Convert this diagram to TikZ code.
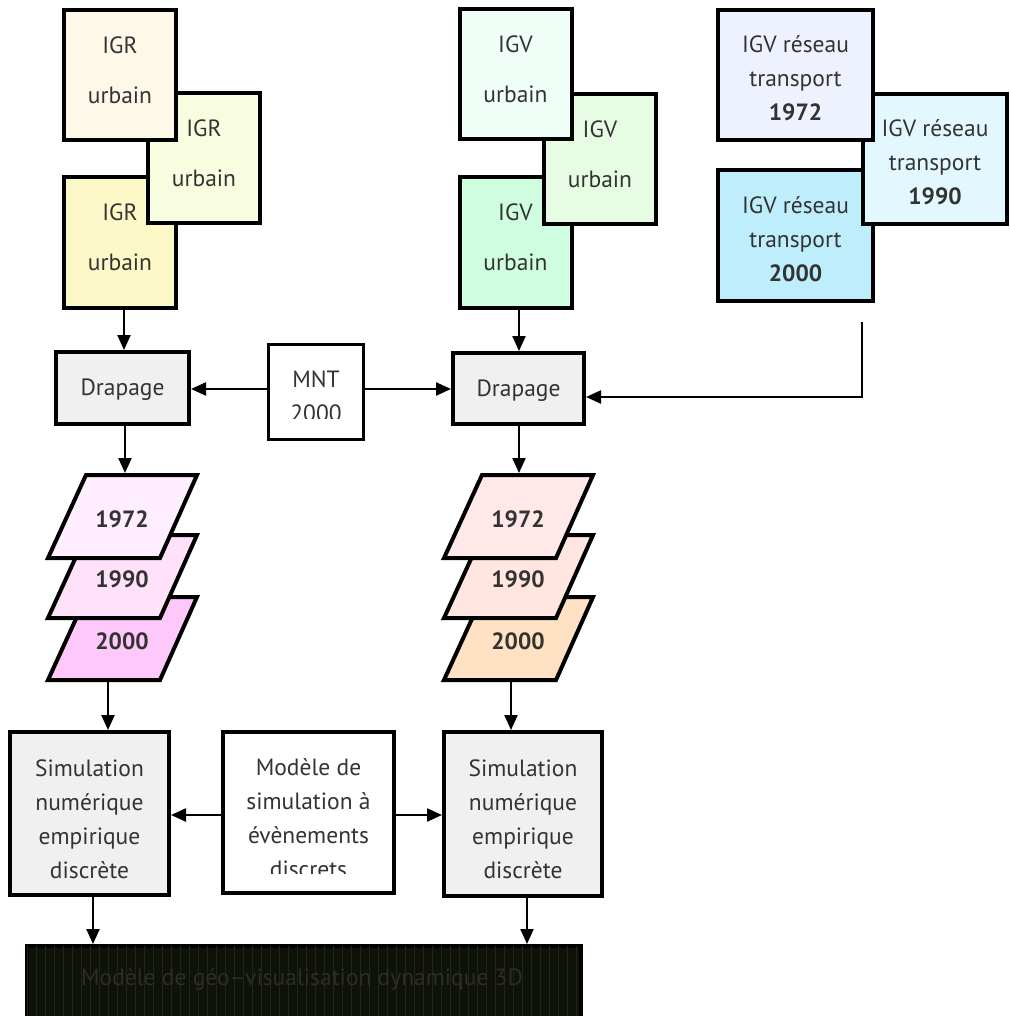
\documentclass[tikz,border=0pt]{standalone}
\usepackage{fontspec}
\setmainfont{PT Sans}
\usetikzlibrary{arrows.meta,calc}
\definecolor{txt}{HTML}{333333}
\definecolor{igrA}{HTML}{FEF8E8}
\definecolor{igrB}{HTML}{F9FDE0}
\definecolor{igrC}{HTML}{FDF8C8}
\definecolor{igvA}{HTML}{F0FEF8}
\definecolor{igvB}{HTML}{E6FDE4}
\definecolor{igvC}{HTML}{CEFDE0}
\definecolor{trA}{HTML}{EDF2FE}
\definecolor{trB}{HTML}{E2F8FE}
\definecolor{trC}{HTML}{BEEEFC}
\definecolor{grayf}{HTML}{F0F0F0}
\definecolor{plA}{HTML}{FFEEFF}
\definecolor{plB}{HTML}{FFE2FA}
\definecolor{plC}{HTML}{FFC8FA}
\definecolor{prA}{HTML}{FFE8E8}
\definecolor{prB}{HTML}{FFE6E0}
\definecolor{prC}{HTML}{FFE2C4}
\definecolor{darkf}{HTML}{0F1208}
\definecolor{gridc}{HTML}{1F2616}
\definecolor{vtext}{HTML}{2C2C2C}
\begin{document}
\begin{tikzpicture}[x=1pt,y=-1pt,
  box/.style={draw=black,line width=4pt,rectangle,inner sep=0pt,align=center,text=txt,
              font=\fontsize{23.5}{34}\selectfont},
  igbox/.style={box,font=\fontsize{23.5}{50}\selectfont,minimum width=112pt,minimum height=130pt},
  trbox/.style={box,minimum width=155pt,minimum height=130pt},
  simbox/.style={box,minimum height=163pt},
  arr/.style={line width=2.3pt,-{Triangle[length=15pt,width=13pt]}},
  para/.style={draw=black,line width=4pt,line join=miter},
  lbl/.style={text=txt,inner sep=0pt,align=center,font=\fontsize{23.5}{34}\selectfont},
  yr/.style={lbl,font=\fontsize{23.5}{34}\selectfont\bfseries},
]
\useasboundingbox (0,0) rectangle (1009,1016);

% IGR stack
\node[igbox,fill=igrC] (igr3) at (120,242.5) {IGR\\urbain\rule[-10pt]{0pt}{10pt}};
\node[igbox,fill=igrB] (igr2) at (204,158.5) {IGR\\urbain\rule[-10pt]{0pt}{10pt}};
\node[igbox,fill=igrA] (igr1) at (120,75) {IGR\\urbain\rule[-10pt]{0pt}{10pt}};

% IGV stack
\node[igbox,fill=igvC] (igv3) at (515.5,242.5) {IGV\\urbain\rule[-10pt]{0pt}{10pt}};
\node[igbox,fill=igvB] (igv2) at (600,159) {IGV\\urbain\rule[-10pt]{0pt}{10pt}};
\node[igbox,fill=igvA] (igv1) at (515.5,74.5) {IGV\\urbain\rule[-10pt]{0pt}{10pt}};

% transport stack
\node[trbox,fill=trC] (tr3) at (795.5,235.5) {\rule{0pt}{24pt}IGV réseau\\transport\\\textbf{2000}};
\node[trbox,fill=trB,minimum width=144pt] (tr2) at (935,159) {\rule{0pt}{24pt}IGV réseau\\transport\\\textbf{1990}};
\node[trbox,fill=trA] (tr1) at (795.5,75) {\rule{0pt}{24pt}IGV réseau\\transport\\\textbf{1972}};

% Drapage and MNT
\node[box,fill=grayf,minimum width=133pt,minimum height=72pt] (dL) at (122.5,388) {\rule{0pt}{20pt}Drapage};
\node[box,fill=grayf,minimum width=131pt,minimum height=71pt] (dR) at (518.5,388.5) {\rule{0pt}{20pt}Drapage};
\node[box,line width=3pt,fill=white,minimum width=95pt,minimum height=95pt] (mnt) at (316,392) {};
\begin{scope}
  \clip (267,343) rectangle (365,418);
  \node[lbl] (mntt) at (316,396) {MNT\\2000};
\end{scope}

% left parallelograms
\draw[para,fill=plC] (86,597) -- (197,597) -- (160,680) -- (48,680) -- cycle;
\draw[para,fill=plB] (86,535) -- (197,535) -- (160,618) -- (48,618) -- cycle;
\draw[para,fill=plA] (86,475) -- (197,475) -- (160,558) -- (48,558) -- cycle;
\node[yr] (pl1t) at (122,519) {1972};
\node[yr] (pl2t) at (122,579) {1990};
\node[yr] (pl3t) at (122,641) {2000};
\coordinate (plTop) at (125,473);
\coordinate (plBot) at (108,682);

% right parallelograms
\draw[para,fill=prC] (482,597) -- (593,597) -- (556,680) -- (444,680) -- cycle;
\draw[para,fill=prB] (482,535) -- (593,535) -- (556,618) -- (444,618) -- cycle;
\draw[para,fill=prA] (482,475) -- (593,475) -- (556,558) -- (444,558) -- cycle;
\node[yr] (pr1t) at (518,519) {1972};
\node[yr] (pr2t) at (518,579) {1990};
\node[yr] (pr3t) at (518,641) {2000};
\coordinate (prTop) at (519,473);
\coordinate (prBot) at (511,682);

% simulation boxes
\node[simbox,fill=grayf,minimum width=159pt] (simL) at (89.5,813.5) {\rule{0pt}{28pt}Simulation\\numérique\\empirique\\discrète};
\node[simbox,fill=grayf,minimum width=158pt,minimum height=164pt] (simR) at (523,814) {\rule{0pt}{28pt}Simulation\\numérique\\empirique\\discrète};
\node[box,fill=white,minimum width=171pt,minimum height=161pt] (model) at (308.5,812.5) {};
\begin{scope}
  \clip (221,730) rectangle (396,873);
  \node[lbl] (modelt) at (308.5,818) {Modèle de\\simulation à\\évènements\\discrets};
\end{scope}

% bottom dark box
\node[draw=black,line width=4pt,fill=darkf,minimum width=554pt,minimum height=110pt,anchor=north west,inner sep=0pt] (viz) at (25,944) {};
\begin{scope}
  \clip (27,946) rectangle (577,1016);
  \draw[gridc,line width=0.6pt] (27,946) grid[xstep=9,ystep=12] (577,1016);
\end{scope}
\node[inner sep=0pt,text=vtext,font=\fontsize{23.5}{30}\selectfont] (vizt) at (302,980) {Modèle de géo–visualisation dynamique 3D};

% connectors
\draw[arr] ([xshift=4pt]igr3.south) -- ([xshift=4pt]igr3.south |- dL.north);
\draw[arr] ([xshift=3.5pt]igv3.south) -- ([xshift=3.5pt]igv3.south |- dR.north);
\draw[arr] (mnt.west |- 0,389) -- (dL.east |- 0,389);
\draw[arr] (mnt.east |- 0,389) -- (dR.west |- 0,389);
\coordinate (tStart) at (862,322);
\coordinate (tCorner) at (862,397);
\draw[arr] (tStart) -- (tCorner) -- (tCorner -| dR.east);
\draw[arr] (dL.south -| plTop) -- (plTop);
\draw[arr] (dR.south -| prTop) -- (prTop);
\draw[arr] (plBot) -- (plBot |- simL.north);
\draw[arr] (prBot) -- (prBot |- simR.north);
\draw[arr] (model.west |- 0,815) -- (simL.east |- 0,815);
\draw[arr] (model.east |- 0,815) -- (simR.west |- 0,815);
\draw[arr] (simL.south -| 93,0) -- (viz.north -| 93,0);
\draw[arr] (simR.south -| 527,0) -- (viz.north -| 527,0);
\end{tikzpicture}
\end{document}
